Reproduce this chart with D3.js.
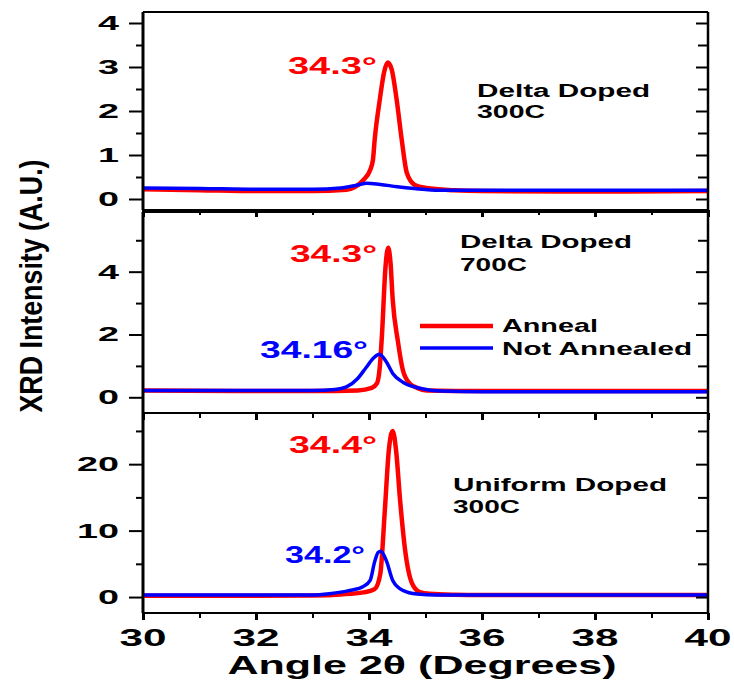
<!DOCTYPE html>
<html>
<head>
<meta charset="utf-8">
<script src="https://cdn.jsdelivr.net/npm/d3@7"></script>
<style>
  body { margin: 0; background: #fff; }
  text { font-family: "Liberation Sans", Arial, sans-serif; font-weight: bold; }
</style>
</head>
<body>
<svg id="chart" width="734" height="683"></svg>
<script>
'use strict';

// x axis
const xTicks = [30, 32, 34, 36, 38, 40];

// panel 1 : Delta Doped 300C
const p1Ticks = [0, 1, 2, 3, 4];
const p1RedX  = [30, 31, 32, 33, 33.6, 33.9, 34.02, 34.07, 34.1, 34.19, 34.27, 34.33, 34.4, 34.49, 34.58, 34.67, 34.81, 35.02, 35.5, 36, 38, 40];
const p1RedY  = [0.22, 0.2, 0.18, 0.18, 0.21, 0.43, 0.66, 0.89, 1.34, 2.25, 2.9, 3.1, 2.95, 2.25, 1.34, 0.59, 0.32, 0.25, 0.2, 0.18, 0.17, 0.18];
const p1BlueX = [30, 31, 32, 33, 33.5, 33.8, 33.96, 34.2, 34.5, 34.8, 35.25, 36, 38, 40];
const p1BlueY = [0.25, 0.24, 0.22, 0.22, 0.25, 0.32, 0.36, 0.33, 0.28, 0.24, 0.2, 0.2, 0.2, 0.2];

// panel 2 : Delta Doped 700C
const p2Ticks = [0, 2, 4];
const p2RedX  = [30, 32, 33, 33.8, 34.05, 34.14, 34.19, 34.23, 34.29, 34.34, 34.38, 34.42, 34.51, 34.6, 34.72, 34.85, 35.02, 36, 40];
const p2RedY  = [0.22, 0.2, 0.2, 0.22, 0.3, 0.44, 0.95, 2.0, 4.1, 4.76, 4.3, 3.1, 1.8, 0.86, 0.44, 0.3, 0.22, 0.2, 0.2];
const p2BlueX = [30, 32, 33, 33.4, 33.6, 33.8, 33.95, 34.08, 34.18, 34.3, 34.42, 34.6, 34.9, 35.3, 36, 40];
const p2BlueY = [0.22, 0.22, 0.22, 0.25, 0.33, 0.6, 0.95, 1.25, 1.37, 1.15, 0.76, 0.48, 0.29, 0.2, 0.18, 0.18];

// panel 3 : Uniform Doped 300C
const p3Ticks = [0, 10, 20];
const p3RedX  = [30, 32, 33, 33.5, 33.9, 34.1, 34.2, 34.28, 34.35, 34.42, 34.48, 34.55, 34.64, 34.76, 34.9, 35.08, 35.5, 36, 40];
const p3RedY  = [0.2, 0.2, 0.25, 0.4, 0.7, 1.2, 3.5, 13, 22, 25, 22, 14.6, 7, 2.1, 0.75, 0.5, 0.35, 0.3, 0.3];
const p3BlueX = [30, 32, 33, 33.3, 33.66, 33.9, 34.02, 34.1, 34.16, 34.21, 34.31, 34.42, 34.6, 34.85, 35.2, 36, 40];
const p3BlueY = [0.3, 0.3, 0.3, 0.5, 1.0, 1.6, 2.5, 5.3, 6.7, 6.9, 5.4, 2.5, 1.0, 0.45, 0.3, 0.3, 0.3];

const seriesNames = ['Anneal', 'Not Annealed'];
const red = '#ff0000';
const blue = '#0000ff';

const svg = d3.select('#chart');
const x = d3.scaleLinear().domain([30, 40]).range([143, 708]);

const panels = [
    { top: 12,  bottom: 210, domain: [-0.25, 4.25], ticks: p1Ticks, step: 0.5,
      red: [p1RedX, p1RedY], blue: [p1BlueX, p1BlueY] },
    { top: 212, bottom: 413, domain: [-0.5, 5.9], ticks: p2Ticks, step: 1,
      red: [p2RedX, p2RedY], blue: [p2BlueX, p2BlueY] },
    { top: 413, bottom: 613, domain: [-2.4, 27.7], ticks: p3Ticks, step: 5,
      red: [p3RedX, p3RedY], blue: [p3BlueX, p3BlueY] }
];

function zip(xs, ys) {
    return xs.map((v, i) => [v, ys[i]]);
}

function label(g, str, px, py, size, width, color, anchor) {
    return g.append('text')
        .attr('x', px).attr('y', py)
        .attr('font-size', size)
        .attr('fill', color || '#000')
        .attr('text-anchor', anchor || 'start')
        .attr('textLength', width)
        .attr('lengthAdjust', 'spacingAndGlyphs')
        .text(str);
}

panels.forEach((p, i) => {
    const y = d3.scaleLinear().domain(p.domain).range([p.bottom, p.top]);
    const g = svg.append('g');

    const minor = d3.range(Math.ceil(p.domain[0] / p.step) * p.step, p.domain[1], p.step)
        .filter(v => !p.ticks.includes(+v.toFixed(3)));

    // clip for curves
    svg.append('clipPath').attr('id', 'clip' + i)
        .append('rect').attr('x', x(30)).attr('y', p.top)
        .attr('width', x(40) - x(30)).attr('height', p.bottom - p.top);

    const line = d3.line()
        .x(d => x(d[0])).y(d => y(d[1]))
        .curve(d3.curveMonotoneX);

    g.append('path').datum(zip(p.red[0], p.red[1]))
        .attr('clip-path', 'url(#clip' + i + ')')
        .attr('fill', 'none').attr('stroke', red).attr('stroke-width', 4.5)
        .attr('d', line);
    g.append('path').datum(zip(p.blue[0], p.blue[1]))
        .attr('clip-path', 'url(#clip' + i + ')')
        .attr('fill', 'none').attr('stroke', blue).attr('stroke-width', 3.5)
        .attr('d', line);

    // left axis, major ticks with labels
    const left = g.append('g').attr('transform', `translate(${x(30)},0)`)
        .call(d3.axisLeft(y).tickValues(p.ticks).tickFormat(d3.format('d'))
            .tickSize(14).tickSizeOuter(0).tickPadding(10));
    left.select('.domain').remove();
    left.selectAll('line').attr('stroke-width', 2);
    left.selectAll('text')
        .attr('font-size', 20)
        .attr('fill', '#000')
        .attr('textLength', d => String(d).length * 21)
        .attr('lengthAdjust', 'spacingAndGlyphs');
    const leftMinor = g.append('g').attr('transform', `translate(${x(30)},0)`)
        .call(d3.axisLeft(y).tickValues(minor).tickSize(7).tickSizeOuter(0).tickFormat(''));
    leftMinor.select('.domain').remove();
    leftMinor.selectAll('line').attr('stroke-width', 2);

    // right axis, inward ticks
    const right = g.append('g').attr('transform', `translate(${x(40)},0)`)
        .call(d3.axisLeft(y).tickValues(p.ticks.concat(minor)).tickSizeOuter(0).tickFormat(''));
    right.select('.domain').remove();
    right.selectAll('line').attr('x2', 12).attr('stroke-width', 2);
    right.selectAll('line').filter(d => !p.ticks.includes(d)).attr('x2', 10);
    right.selectAll('line').attr('x2', function () { return -d3.select(this).attr('x2'); });

    // bottom ticks pointing down
    const bottom = g.append('g').attr('transform', `translate(0,${p.bottom})`)
        .call(d3.axisBottom(x).tickValues(xTicks).tickSize(7).tickSizeOuter(0).tickFormat(''));
    bottom.select('.domain').remove();
    bottom.selectAll('line').attr('stroke-width', 3);
    const bottomMinor = g.append('g').attr('transform', `translate(0,${p.bottom})`)
        .call(d3.axisBottom(x).tickValues([31, 33, 35, 37, 39]).tickSize(5).tickSizeOuter(0).tickFormat(''));
    bottomMinor.select('.domain').remove();
    bottomMinor.selectAll('line').attr('stroke-width', 2);

    // frame
    g.append('line').attr('x1', x(30)).attr('x2', x(40)).attr('y1', p.top).attr('y2', p.top)
        .attr('stroke', '#000').attr('stroke-width', 2);
    g.append('line').attr('x1', x(30)).attr('x2', x(40)).attr('y1', p.bottom).attr('y2', p.bottom)
        .attr('stroke', '#000').attr('stroke-width', 2);
    g.append('line').attr('x1', x(30)).attr('x2', x(30)).attr('y1', p.top).attr('y2', p.bottom)
        .attr('stroke', '#000').attr('stroke-width', 3);
    g.append('line').attr('x1', x(40)).attr('x2', x(40)).attr('y1', p.top).attr('y2', p.bottom)
        .attr('stroke', '#000').attr('stroke-width', 2.5);
});

// x tick labels
svg.append('g').selectAll('text').data(xTicks).join('text')
    .attr('x', d => x(d)).attr('y', 646)
    .attr('font-size', 24)
    .attr('text-anchor', 'middle')
    .attr('textLength', 47)
    .attr('lengthAdjust', 'spacingAndGlyphs')
    .text(d => d);

// axis titles
label(svg, 'Angle 2\u03b8 (Degrees)', 422, 674, 25, 389, '#000', 'middle');
label(svg.append('g').attr('transform', 'translate(42,286) rotate(-90)'),
    'XRD Intensity (A.U.)', 0, 0, 31, 253, '#000', 'middle');

// panel notes
label(svg, 'Delta Doped', 477, 97, 18, 173);
label(svg, '300C', 477, 118, 18, 68);
label(svg, 'Delta Doped', 460, 248, 18, 172);
label(svg, '700C', 460, 271, 18, 67);
label(svg, 'Uniform Doped', 453, 491, 18, 214);
label(svg, '300C', 453, 513, 18, 67);

// peak labels
label(svg, '34.3\u00b0', 288, 74, 23, 89, red);
label(svg, '34.3\u00b0', 290, 262, 23, 87, red);
label(svg, '34.16\u00b0', 260, 358, 23, 108, blue);
label(svg, '34.4\u00b0', 289, 453, 23, 88, red);
label(svg, '34.2\u00b0', 285, 563, 23, 80, blue);

// legend
const legend = svg.append('g');
[red, blue].forEach((c, i) => {
    legend.append('line')
        .attr('x1', 420).attr('x2', 493)
        .attr('y1', 326 + i * 22).attr('y2', 326 + i * 22)
        .attr('stroke', c).attr('stroke-width', i ? 3.5 : 4.5);
    label(legend, seriesNames[i], 502, 332 + i * 23, 19, i ? 190 : 96);
});
</script>
</body>
</html>
